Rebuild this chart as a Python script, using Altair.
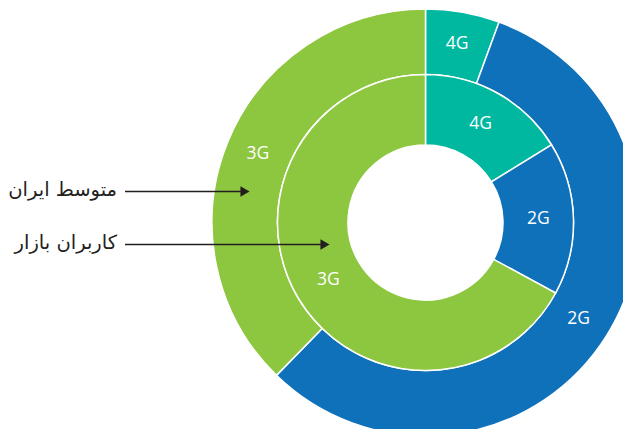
import altair as alt
import pandas as pd

# Data (share of users, %)
categories = ["4G", "2G", "3G"]
outer_values = [5.6, 56.7, 37.7]    # متوسط ایران (Iran average)
inner_values = [16.2, 16.7, 67.1]   # کاربران بازار (Bazaar users)
slice_order = [0, 1, 2]
colors = ["#00B89F", "#0F71BA", "#8DC63F"]
ann_labels = ["متوسط ایران", "کاربران بازار"]

outer_df = pd.DataFrame({"tech": categories, "value": outer_values, "order": slice_order})
inner_df = pd.DataFrame({"tech": categories, "value": inner_values, "order": slice_order})

CX, CY = 417.5, 214.5
color = alt.Color("tech:N", scale=alt.Scale(domain=categories, range=colors), legend=None)


def ring(df, r_in, r_out, r_label):
    base = alt.Chart(df).encode(
        theta=alt.Theta("value:Q", stack=True),
        order=alt.Order("order:Q"),
        x=alt.value(CX),
        y=alt.value(CY),
    )
    arc = base.mark_arc(radius=r_out, innerRadius=r_in, stroke="white", strokeWidth=1.5).encode(color=color)
    txt = base.mark_text(radius=r_label, fontSize=17.5, font="Open Sans", color="white").encode(text="tech:N")
    return [arc, txt]


layers = ring(outer_df, 148, 213.5, 181) + ring(inner_df, 77.5, 148, 113)

# annotations: labels and arrows on the left
ann_y = [182, 235]
line_x_end = [235, 315]
for lab, yy, xe in zip(ann_labels, ann_y, line_x_end):
    d = pd.DataFrame({"t": [lab]})
    layers.append(
        alt.Chart(d).mark_text(align="right", baseline="middle", fontSize=19.5, font="DejaVu Sans", color="#231F20")
        .encode(text="t:N", x=alt.value(109), y=alt.value(yy))
    )
    layers.append(
        alt.Chart(d).mark_rule(color="#231F20", strokeWidth=1.3)
        .encode(x=alt.value(117), x2=alt.value(xe), y=alt.value(yy + 1.5))
    )
    layers.append(
        alt.Chart(d).mark_point(shape="triangle-right", filled=True, size=110, color="#231F20", opacity=1)
        .encode(x=alt.value(xe + 2), y=alt.value(yy + 1.5))
    )

chart = alt.layer(*layers).properties(
    width=615, height=421, padding=0, autosize=alt.AutoSizeParams(type="none")
).configure_view(stroke=None)

chart.save("out.html", embed_options={"renderer": "svg", "actions": False})
